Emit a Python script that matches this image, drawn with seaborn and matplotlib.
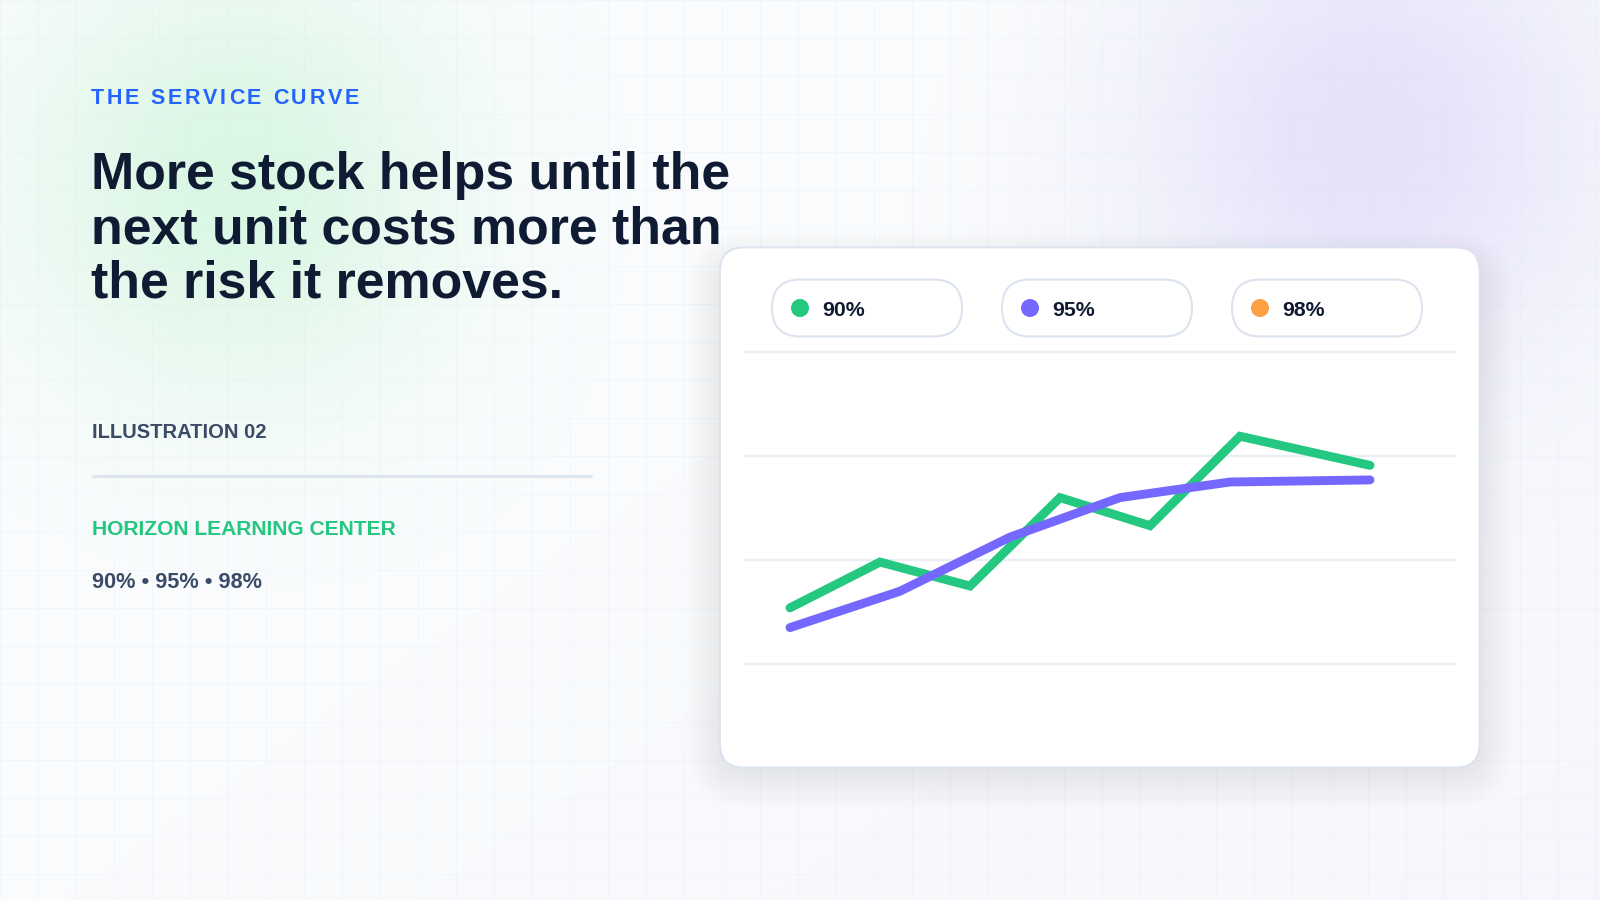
import numpy as np
import pandas as pd
import matplotlib
matplotlib.use('Agg')
import matplotlib.pyplot as plt
import seaborn as sns
from matplotlib.patches import FancyBboxPatch, Circle

# service levels shown in the legend
levels = ['90%', '95%', '98%']
level_colors = ['#24C880', '#7568FF', '#FF9F45']

# curves (stock units vs. cost index)
stock_90 = [0, 9, 18, 27, 36, 45, 58]
cost_90 = [5.4, 9.8, 7.5, 16.0, 13.3, 21.9, 19.1]
stock_95 = [0, 11, 22, 33, 44, 58]
cost_95 = [3.5, 7.0, 12.2, 16.0, 17.5, 17.7]

kicker = 'THE SERVICE CURVE'
headline = ['More stock helps until the',
            'next unit costs more than',
            'the risk it removes.']
label = 'ILLUSTRATION 02'
org = 'HORIZON LEARNING CENTER'
subtitle = ' \u2022 '.join(levels)

df = pd.concat([
    pd.DataFrame({'stock': stock_90, 'cost': cost_90, 'level': '90%'}),
    pd.DataFrame({'stock': stock_95, 'cost': cost_95, 'level': '95%'}),
], ignore_index=True)

sns.set_style('white')
plt.rcParams['font.family'] = ['Liberation Sans', 'DejaVu Sans']

W, H = 1600, 900
fig = plt.figure(figsize=(16, 9), dpi=100)

# background canvas in pixel coords
bg = fig.add_axes([0, 0, 1, 1])
bg.set_xlim(0, W)
bg.set_ylim(H, 0)
bg.axis('off')

yy, xx = np.mgrid[0:H, 0:W].astype(float)
img = np.ones((H, W, 3)) * np.array([250, 252, 253]) / 255
lav = np.clip((xx / W) * 0.55 + (yy / H) * 0.45 - 0.35, 0, 1) * 0.75
img = img * (1 - lav[..., None]) + np.array([243, 241, 252]) / 255 * lav[..., None]
g = np.exp(-((xx - 235) ** 2 + (yy - 180) ** 2) / (2 * 150 ** 2))
img = img * (1 - g[..., None]) + np.array([218, 247, 228]) / 255 * g[..., None]
p = np.exp(-((xx - 1370) ** 2 + (yy - 135) ** 2) / (2 * 165 ** 2))
img = img * (1 - p[..., None]) + np.array([229, 226, 250]) / 255 * p[..., None]
bg.imshow(img, extent=(0, W, H, 0), aspect='auto', zorder=0)

for gx in range(0, W + 1, 38):
    bg.plot([gx, gx], [0, H], color='#dfe5ee', lw=0.6, alpha=0.25, zorder=1)
for gy in range(0, H + 1, 38):
    bg.plot([0, W], [gy, gy], color='#dfe5ee', lw=0.6, alpha=0.25, zorder=1)

# left column text
fig.canvas.draw()
renderer = fig.canvas.get_renderer()
x = 90.5
fs_k = 15.5
for ch in kicker:
    t = bg.text(x, 103.7, ch, fontsize=fs_k, fontweight='bold', color='#2563FF',
                va='baseline', ha='left', zorder=5)
    w = fs_k * 100 / 72 * 0.278 if ch == ' ' else t.get_window_extent(renderer).width
    x += w + 2.8

for i, line in enumerate(headline):
    bg.text(91, 188.7 + i * 54.4, line, fontsize=37.4, fontweight='bold',
            color='#0E1B33', va='baseline', ha='left', zorder=5)

bg.text(91.5, 438.3, label, fontsize=14.5, fontweight='bold', color='#3A4A67',
        va='baseline', zorder=5)
bg.plot([92, 592], [475.7, 475.7], color='#dde5ef', lw=2.2, solid_capstyle='butt', zorder=5)
bg.text(91.5, 535, org, fontsize=15.1, fontweight='bold', color='#24C77F',
        va='baseline', zorder=5)
bg.text(91.5, 588.3, subtitle, fontsize=15.7, fontweight='bold', color='#3A4A67',
        va='baseline', zorder=5)

# card with soft shadow
cx0, cy0, cw, ch_ = 720, 247.5, 759.5, 520
for k in range(1, 20):
    pad = k * 2.0
    bg.add_patch(FancyBboxPatch((cx0 - pad + 4, cy0 - pad + 22), cw + 2 * pad - 8, ch_ + 2 * pad - 20,
                                boxstyle='round,pad=0,rounding_size=%f' % (24 + pad),
                                facecolor='#5a6aa0', edgecolor='none', alpha=0.0055, zorder=2))
bg.add_patch(FancyBboxPatch((cx0, cy0), cw, ch_, boxstyle='round,pad=0,rounding_size=24',
                            facecolor='white', edgecolor='#dbe3ee', lw=1.3, zorder=3))

# legend pills
for i, (lv, col) in enumerate(zip(levels, level_colors)):
    px = 772 + i * 230
    bg.add_patch(FancyBboxPatch((px, 279.5), 190, 57, boxstyle='round,pad=0,rounding_size=28.5',
                                facecolor='white', edgecolor='#dbe3ee', lw=1.5, zorder=4))
    bg.add_patch(Circle((px + 28, 308), 9, facecolor=col, edgecolor='none', zorder=5))
    bg.text(px + 50, 316.5, lv, fontsize=15.3, fontweight='bold', color='#111A33',
            va='baseline', ha='left', zorder=5)

# plot area: gridlines from y=352 (30) to y=664 (0), 10.4 px per unit
top_px, bot_px = 340, 676
ax = fig.add_axes([744 / W, 1 - bot_px / H, (1456 - 744) / W, (bot_px - top_px) / H])
ax.set_zorder(2)
ax.set_facecolor('none')
sns.lineplot(data=df, x='stock', y='cost', hue='level', hue_order=levels[:2],
             palette=level_colors[:2], linewidth=6.4, sort=False, legend=False,
             estimator=None, ax=ax)
for ln in ax.lines:
    ln.set_solid_capstyle('round')
    ln.set_solid_joinstyle('miter')
    ln.set_clip_on(False)

ax.set_xlim(-4.6, 66.6)
ax.set_ylim(-(bot_px - 664) / 10.4, 30 + (352 - top_px) / 10.4)
ax.set_yticks([0, 10, 20, 30])
ax.set_xticks([])
ax.grid(axis='y', color='#e9eef4', lw=1.6)
ax.set_axisbelow(True)
ax.tick_params(left=False, bottom=False, labelleft=False, labelbottom=False)
ax.set_xlabel('')
ax.set_ylabel('')
sns.despine(ax=ax, left=True, bottom=True)

fig.savefig('out.png', dpi=100)
